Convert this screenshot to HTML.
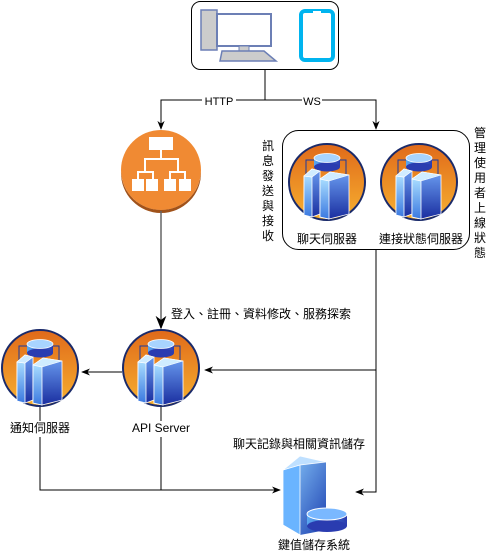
<!DOCTYPE html>
<html><head><meta charset="utf-8"><style>
body{margin:0;background:#fff;}
svg{display:block;font-family:"Liberation Sans","Noto Sans CJK TC",sans-serif;}
</style></head><body>
<svg width="491" height="555" viewBox="0 0 491 555" xmlns="http://www.w3.org/2000/svg">
<defs>
<linearGradient id="og" x1="0" y1="0" x2="0" y2="1"><stop offset="0" stop-color="#e06a1a"/><stop offset="1" stop-color="#f7b030"/></linearGradient>
<linearGradient id="bg" x1="0" y1="0" x2="1" y2="1"><stop offset="0" stop-color="#8fd0ff"/><stop offset="1" stop-color="#1c3fb0"/></linearGradient>
<linearGradient id="fr" x1="0" y1="0" x2="0" y2="1"><stop offset="0" stop-color="#a8dcff"/><stop offset="1" stop-color="#3a78e0"/></linearGradient>
<linearGradient id="sd" x1="0" y1="0" x2="0" y2="1"><stop offset="0" stop-color="#6a9cf0"/><stop offset="1" stop-color="#1a2ea0"/></linearGradient>
<linearGradient id="bg2" x1="0" y1="0" x2="1" y2="0"><stop offset="0" stop-color="#5aa8f0"/><stop offset="1" stop-color="#2a3cb0"/></linearGradient>
<marker id="ar" viewBox="0 0 10 10" refX="9" refY="5" markerWidth="9" markerHeight="9" orient="auto"><path d="M0,1 L10,5 L0,9 L3,5z" fill="#000"/></marker>
<g id="srv">
<circle r="38" fill="url(#og)" stroke="#1a2a6a" stroke-width="2"/>
<path d="M-21,-4 V-22 H-13 M13,-22 H19 V-2" fill="none" stroke="#1a3aa0" stroke-width="1"/>
<rect x="-13" y="-24" width="26" height="9" fill="url(#bg2)"/>
<ellipse cx="0" cy="-15" rx="13" ry="4.5" fill="#2a3cb0"/>
<ellipse cx="0" cy="-24" rx="13" ry="4.5" fill="#a8d4ff" stroke="#fff" stroke-width="0.8"/>
<path d="M-23,-6 L-15,-13 L-7,-11 L-7,32 L-15,35 L-23,33z" fill="url(#sd)" stroke="#fff" stroke-width="0.8"/>
<path d="M-23,-6 L-15,-5 L-15,35 L-23,33z" fill="url(#fr)" stroke="#fff" stroke-width="0.8"/>
<path d="M-23,-6 L-15,-13 L-7,-11 L-15,-5z" fill="#d0ecff" stroke="#fff" stroke-width="0.6"/>
<path d="M-7,-3 L3,-10 L22,-7 L22,32 L2,37 L-7,35z" fill="url(#sd)" stroke="#fff" stroke-width="0.8"/>
<path d="M-7,-3 L2,-1 L2,37 L-7,35z" fill="url(#fr)" stroke="#fff" stroke-width="0.8"/>
<path d="M-7,-3 L3,-10 L22,-7 L2,-1z" fill="#d0ecff" stroke="#fff" stroke-width="0.6"/>
</g>
</defs>

<rect x="191.5" y="1.5" width="147" height="68" rx="9" fill="#fff" stroke="#000"/>
<rect x="201" y="10" width="16" height="40" fill="#ccc" stroke="#6c7fb5" stroke-width="1.5"/>
<rect x="217" y="14" width="54" height="32" fill="#fff" stroke="#6c7fb5" stroke-width="2"/>
<rect x="239" y="46" width="10" height="5" fill="#ccc" stroke="#6c7fb5"/>
<path d="M222,51 L264,51 L276,61 L220,61z" fill="#ccc" stroke="#6c7fb5" stroke-width="1.5"/>
<rect x="301" y="11" width="32" height="49" rx="4" fill="#fff" stroke="#00b4ef" stroke-width="4"/>
<rect x="313" y="11" width="8" height="2" fill="#fff"/>

<path d="M265,70 V100 H161 V129" fill="none" stroke="#000" marker-end="url(#ar)"/>
<path d="M265,100 H376 V129" fill="none" stroke="#000" marker-end="url(#ar)"/>
<rect x="202" y="95" width="34" height="11" fill="#fff"/>
<text x="219" y="105" font-size="11" text-anchor="middle">HTTP</text>
<rect x="302" y="95" width="20" height="11" fill="#fff"/>
<text x="312" y="105" font-size="11" text-anchor="middle">WS</text>

<circle cx="161" cy="170" r="40" fill="#f08a33"/>
<path d="M161,213 A40,40 0 0 1 121,172 A40,40 0 0 0 161,210 A40,40 0 0 0 201,172 A40,40 0 0 1 161,213z" fill="#a0521a"/>
<g fill="#fff">
<rect x="149" y="137" width="24" height="13"/>
<rect x="132" y="179" width="12" height="12"/><rect x="146" y="179" width="12" height="12"/>
<rect x="164" y="179" width="12" height="12"/><rect x="179" y="179" width="12" height="12"/>
</g>
<path d="M161,150 V159 M145,172 V159 H178 V172 M138,179 V172 H153 V179 M170,179 V172 H185 V179" fill="none" stroke="#fff" stroke-width="2"/>
<path d="M161,211 V328" fill="none" stroke="#666" stroke-width="1.5" marker-end="url(#ar)"/>

<text font-size="12"><tspan x="262" y="150">訊</tspan><tspan x="262" y="165">息</tspan><tspan x="262" y="180">發</tspan><tspan x="262" y="195">送</tspan><tspan x="262" y="210">與</tspan><tspan x="262" y="225">接</tspan><tspan x="262" y="240">收</tspan></text>

<rect x="282.5" y="130.5" width="187" height="119" rx="16" fill="#fff" stroke="#000"/>
<use href="#srv" x="327" y="182"/>
<use href="#srv" x="419" y="182"/>
<text x="327" y="243" font-size="12" text-anchor="middle">聊天伺服器</text>
<text x="421" y="243" font-size="12" text-anchor="middle">連接狀態伺服器</text>
<text font-size="12"><tspan x="474" y="137">管</tspan><tspan x="474" y="152">理</tspan><tspan x="474" y="167">使</tspan><tspan x="474" y="182">用</tspan><tspan x="474" y="197">者</tspan><tspan x="474" y="212">上</tspan><tspan x="474" y="227">線</tspan><tspan x="474" y="242">狀</tspan><tspan x="474" y="257">態</tspan></text>

<text x="171" y="318" font-size="12">登入、註冊、資料修改、服務探索</text>

<path d="M376,250 V492 H356" fill="none" stroke="#000" marker-end="url(#ar)"/>
<path d="M376,370 H205" fill="none" stroke="#000" marker-end="url(#ar)"/>
<path d="M122,372 H82" fill="none" stroke="#000" marker-end="url(#ar)"/>

<use href="#srv" x="40" y="368"/>
<use href="#srv" x="161" y="368"/>
<text x="40" y="432" font-size="12" text-anchor="middle">通知伺服器</text>
<text x="161" y="432" font-size="12" text-anchor="middle">API Server</text>

<path d="M40,407 V421 M40,437 V490 H280" fill="none" stroke="#000" marker-end="url(#ar)"/>
<path d="M161,407 V421 M161,437 V490" fill="none" stroke="#000"/>

<text x="299" y="448" font-size="12" text-anchor="middle">聊天記錄與相關資訊儲存</text>

<path d="M283,470 L300,456 L326,462 L326,530 L300,535 L283,525z" fill="url(#bg)"/>
<path d="M283,470 L300,464 L300,535 L283,525z" fill="#6ab4ff" stroke="#fff" stroke-width="0.8"/>
<path d="M283,470 L300,456 L326,462 L300,465z" fill="#bfe0ff" stroke="#fff" stroke-width="0.8"/>
<rect x="307" y="514" width="40" height="12" fill="url(#bg2)"/>
<ellipse cx="327" cy="526" rx="20" ry="6" fill="#2a3cb0"/>
<ellipse cx="327" cy="514" rx="20" ry="6" fill="#7ab8ff" stroke="#fff"/>
<text x="314" y="549" font-size="12" text-anchor="middle">鍵值儲存系統</text>
</svg>
</body></html>
